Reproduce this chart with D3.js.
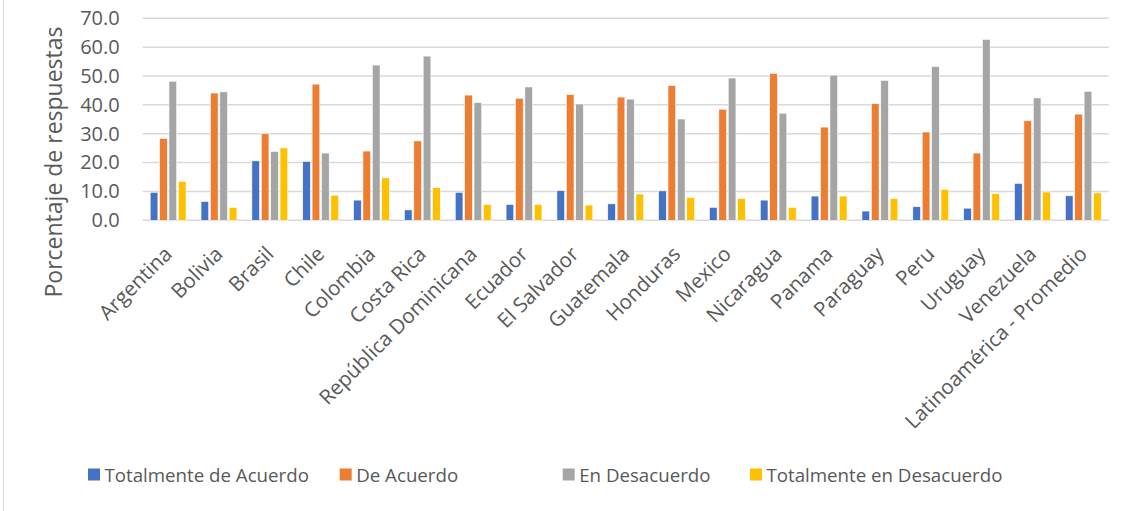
<!DOCTYPE html>
<html>
<head>
<meta charset="utf-8">
<script src="https://cdn.jsdelivr.net/npm/d3@7"></script>
<style>
  html, body { margin: 0; padding: 0; background: #fff; }
  svg { display: block; font-family: "Open Sans", sans-serif; }
</style>
</head>
<body>
<div id="chart"></div>
<script>
// DATA
var categories = ["Argentina", "Bolivia", "Brasil", "Chile", "Colombia", "Costa Rica",
  "República Dominicana", "Ecuador", "El Salvador", "Guatemala", "Honduras", "Mexico",
  "Nicaragua", "Panama", "Paraguay", "Peru", "Uruguay", "Venezuela", "Latinoamérica - Promedio"];

var seriesNames = ["Totalmente de Acuerdo", "De Acuerdo", "En Desacuerdo", "Totalmente en Desacuerdo"];
var seriesColors = ["#4472C4", "#ED7D31", "#A5A5A5", "#FFC000"];

var totalmenteDeAcuerdo = [9.7, 6.5, 20.6, 20.4, 7.0, 3.6, 9.7, 5.5, 10.3, 5.7, 10.2, 4.5, 7.0, 8.4, 3.2, 4.7, 4.2, 12.8, 8.5];
var deAcuerdo = [28.4, 44.1, 30.1, 47.2, 24.0, 27.5, 43.4, 42.3, 43.6, 42.7, 46.7, 38.5, 50.9, 32.3, 40.4, 30.6, 23.3, 34.5, 36.8];
var enDesacuerdo = [48.2, 44.5, 23.9, 23.3, 53.8, 56.9, 40.8, 46.2, 40.3, 42.0, 35.1, 49.3, 37.1, 50.3, 48.5, 53.3, 62.7, 42.4, 44.7];
var totalmenteEnDesacuerdo = [13.5, 4.5, 25.1, 8.7, 14.7, 11.3, 5.5, 5.5, 5.3, 9.1, 7.9, 7.5, 4.5, 8.4, 7.5, 10.7, 9.2, 9.8, 9.5];

var yTicks = [0, 10, 20, 30, 40, 50, 60, 70];

var seriesValues = [totalmenteDeAcuerdo, deAcuerdo, enDesacuerdo, totalmenteEnDesacuerdo];

// SETUP
var width = 1130, height = 511;
var font = "'Open Sans', sans-serif";
var svg = d3.select("#chart").append("svg")
  .attr("width", width)
  .attr("height", height);

// chart border (left edge visible)
svg.append("line")
  .attr("x1", 3.5).attr("x2", 3.5)
  .attr("y1", 0).attr("y2", height)
  .attr("stroke", "#D9D9D9")
  .attr("stroke-width", 1);

var plot = { left: 142.7, right: 1108.7, top: 18.3, bottom: 220.3 };

var x0 = d3.scaleBand()
  .domain(categories)
  .range([plot.left, plot.right])
  .paddingInner(0.276)
  .paddingOuter(0.138);

var x1 = d3.scaleBand()
  .domain(seriesNames)
  .range([0, x0.bandwidth()])
  .paddingInner(0.18)
  .paddingOuter(0.05);

var y = d3.scaleLinear()
  .domain([0, 70])
  .range([plot.bottom, plot.top]);

// gridlines
svg.append("g")
  .selectAll("line")
  .data(yTicks)
  .enter().append("line")
  .attr("x1", plot.left)
  .attr("x2", plot.right)
  .attr("y1", function (d) { return y(d); })
  .attr("y2", function (d) { return y(d); })
  .attr("stroke", "#D9D9D9")
  .attr("stroke-width", 1.5);

// y axis labels
var yAxis = svg.append("g")
  .attr("transform", "translate(" + (plot.left - 10) + ",0)")
  .call(d3.axisLeft(y).tickValues(yTicks).tickFormat(d3.format(".1f")).tickSize(0).tickPadding(13))
  .attr("font-family", font)
  .attr("font-size", 20);
yAxis.select(".domain").remove();
yAxis.selectAll("text")
  .attr("fill", "#595959");

// y axis title
svg.append("text")
  .attr("transform", "translate(62,162) rotate(-90)")
  .attr("text-anchor", "middle")
  .attr("fill", "#595959")
  .style("font-size", "23px")
  .text("Porcentaje de respuestas");

// bars
var groups = svg.append("g")
  .selectAll("g")
  .data(categories)
  .enter().append("g")
  .attr("transform", function (d) { return "translate(" + x0(d) + ",0)"; });

groups.selectAll("rect")
  .data(function (d, i) {
    return seriesNames.map(function (s, j) {
      return { series: s, value: seriesValues[j][i], color: seriesColors[j] };
    });
  })
  .enter().append("rect")
  .attr("x", function (d) { return x1(d.series); })
  .attr("y", function (d) { return y(d.value); })
  .attr("width", x1.bandwidth())
  .attr("height", function (d) { return y(0) - y(d.value); })
  .attr("fill", function (d) { return d.color; })
  .attr("stroke", "#fff")
  .attr("stroke-width", 0.6);

// x axis labels
var xAxis = svg.append("g")
  .attr("transform", "translate(0," + plot.bottom + ")")
  .call(d3.axisBottom(x0).tickSize(0).tickPadding(0))
  .attr("font-family", font)
  .attr("font-size", 20.5);
xAxis.select(".domain").remove();
xAxis.selectAll("text")
  .attr("fill", "#595959")
  .attr("text-anchor", "end")
  .attr("dy", "0.35em")
  .attr("y", 0)
  .attr("transform", "translate(0,30) rotate(-45)");

// legend
var legendX = [88, 339.7, 562.7, 750];
var legend = svg.append("g")
  .selectAll("g")
  .data(seriesNames)
  .enter().append("g")
  .attr("transform", function (d, i) { return "translate(" + legendX[i] + ",468.5)"; });

legend.append("rect")
  .attr("width", 12)
  .attr("height", 12)
  .attr("fill", function (d, i) { return seriesColors[i]; });

legend.append("text")
  .attr("x", 16.5)
  .attr("y", 13.5)
  .attr("fill", "#595959")
  .style("font-size", "18.7px")
  .text(function (d) { return d; });
</script>
</body>
</html>
